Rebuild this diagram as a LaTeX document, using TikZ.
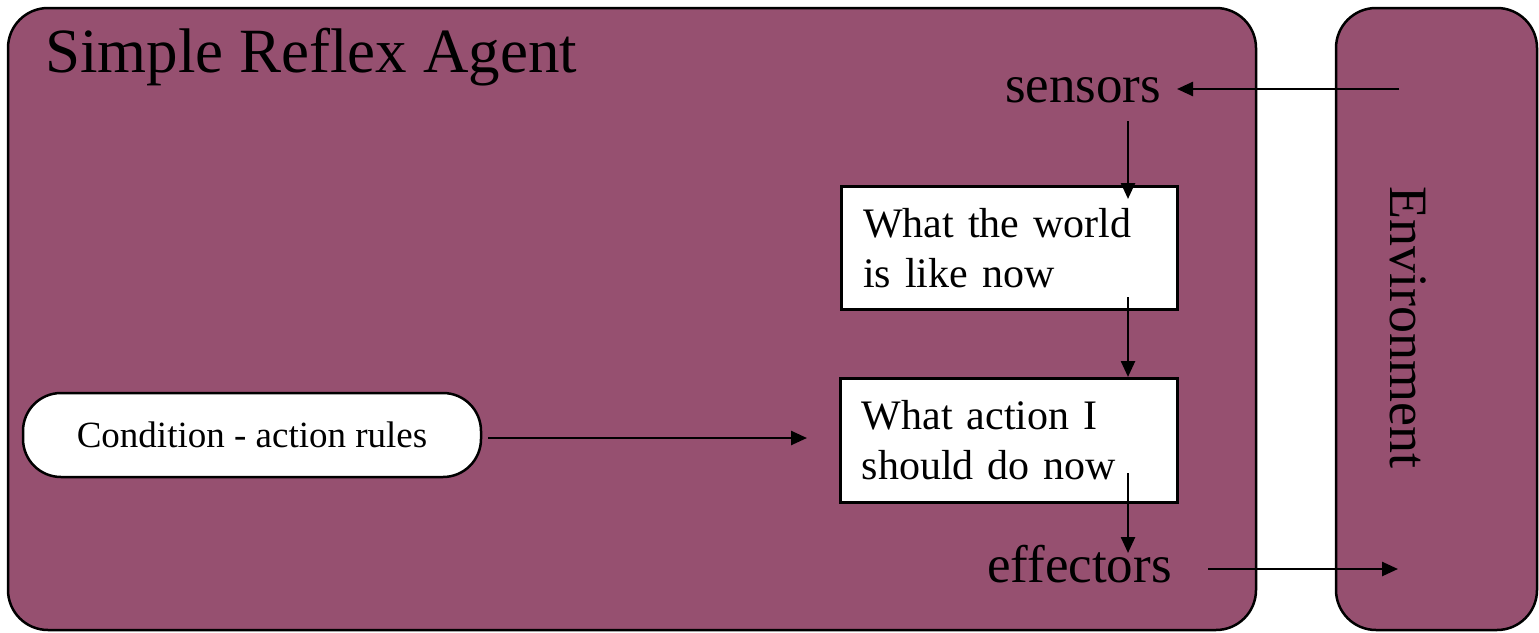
\documentclass[tikz,border=0pt]{standalone}
\usepackage{fontspec}
\setmainfont{Liberation Serif}
\usetikzlibrary{arrows.meta}
\definecolor{plum}{RGB}{150,80,112}
\tikzset{
  panel/.style={draw=black, line width=2.5pt, fill=plum, rounded corners=40pt},
  wbox/.style={draw=black, line width=2.5pt, fill=white, anchor=north west, inner sep=0pt,
     font=\fontsize{42}{50}\selectfont, align=left},
  lbl/.style={inner sep=0pt, anchor=base west},
  arr/.style={line width=2.5pt, -{Triangle[length=16pt,width=14pt]}},
}
\begin{document}
\begin{tikzpicture}[x=1pt,y=-1pt]
\useasboundingbox (0,0) rectangle (1539,632);
% panels
\draw[panel] (8,8) rectangle (1256,630);
\draw[panel] (1336,8) rectangle (1537,630);
% title
\node[lbl, font=\fontsize{63}{70}\selectfont] (title) at (45,72) {Simple Reflex Agent};
% environment
\node[inner sep=0pt, rotate=-90, font=\fontsize{54}{60}\selectfont] (envtext) at (1408,327) {Environment};
% sensors / effectors
\node[lbl, font=\fontsize{53}{60}\selectfont] (sensors) at (1005,102) {sensors};
\node[lbl, font=\fontsize{53}{60}\selectfont] (effectors) at (987,582) {effectors};
% boxes
\node[wbox, minimum width=336pt, minimum height=123pt, text width=292pt] (world) at (840,185)
  {What the world\\is like now};
\node[wbox, minimum width=337pt, minimum height=124pt, text width=294pt] (action) at (839,377)
  {What action I\\should do now};
\node[draw=black, line width=2.5pt, fill=white, rounded corners=38pt, inner sep=0pt,
      minimum width=458pt, minimum height=84pt, font=\fontsize{37}{44}\selectfont] (rules) at (252,435)
  {Condition - action rules};
% connector end points
\coordinate (envin) at (1399,89);
\coordinate (sensin) at (1177,89);
\coordinate (sensout) at (1128,121);
\coordinate (worldin) at (1128,199);
\coordinate (worldout) at (1128,297);
\coordinate (actionin) at (1128,377);
\coordinate (actionout) at (1128,473);
\coordinate (effin) at (1128,553);
\coordinate (effout) at (1208,569);
\coordinate (envout) at (1398,569);
\coordinate (rulesout) at (488,438);
\coordinate (actionleft) at (807,438);
% connectors
\draw[arr] (envin) -- (sensin);
\draw[arr] (sensout) -- (worldin);
\draw[arr] (worldout) -- (actionin);
\draw[arr] (actionout) -- (effin);
\draw[arr] (effout) -- (envout);
\draw[arr] (rulesout) -- (actionleft);
\end{tikzpicture}
\end{document}
